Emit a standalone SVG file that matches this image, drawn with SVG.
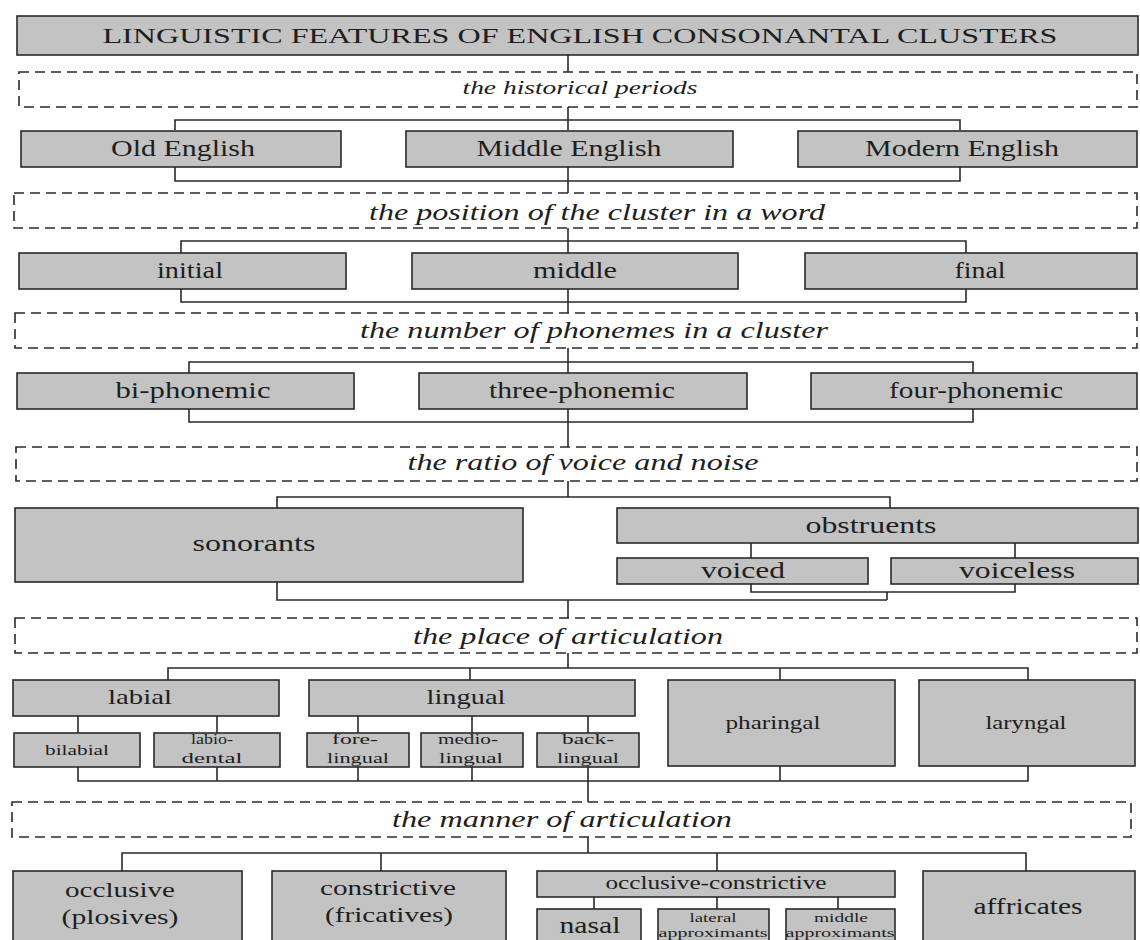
<svg xmlns="http://www.w3.org/2000/svg" width="1140" height="940" viewBox="0 0 1140 940">
<style>
.box{fill:#c3c3c3;stroke:#2a2a2a;stroke-width:1.6}
.dash{fill:none;stroke:#2a2a2a;stroke-width:1.6;stroke-dasharray:10 6}
.con{fill:none;stroke:#2a2a2a;stroke-width:1.6}
text{font-family:"Liberation Serif","Times New Roman",serif;fill:#1e1e1e;text-anchor:middle}
.it{font-style:italic;font-size:24px}
.t23{font-size:23px}
.t22{font-size:22px}
.t21{font-size:21px}
.t18{font-size:18px}
.t15{font-size:15px}
.t13{font-size:13px}
</style>
<rect width="1140" height="940" fill="#ffffff"/>
<g id="connectors">
<path class="con" d="M568,55V72"/>
<path class="con" d="M568,107V130M175,130V120H960V130M175,166V181H960V166M568,166V193"/>
<path class="con" d="M568,228V253M181,253V241H966V253M181,289V302H966V289M568,289V313"/>
<path class="con" d="M568,348V373M189,373V362H973V373M189,409V422H973V409M568,409V447"/>
<path class="con" d="M568,481V497M277,508V497H890V508"/>
<path class="con" d="M751,543V558M1015,543V558M751,584V592H1015V584M887,592V600M277,582V600H887M568,600V618"/>
<path class="con" d="M568,653V668M168,680V668H1028V680M470,668V680M780,668V680"/>
<path class="con" d="M78,716V733M217,716V733M358,716V733M472,716V733M588,716V733"/>
<path class="con" d="M78,767V781H1028V766M217,767V781M358,767V781M472,767V781M588,767V802M780,766V781"/>
<path class="con" d="M588,837V853M122,871V853H1026V871M381,853V871M717,853V871"/>
<path class="con" d="M594,897V909M717,897V909M838,897V909"/>
</g>
<g id="title"><rect class="box" x="17" y="16" width="1121" height="39"/><text x="580" y="43" font-size="22" textLength="955" lengthAdjust="spacingAndGlyphs">LINGUISTIC FEATURES OF ENGLISH CONSONANTAL CLUSTERS</text></g>
<g id="d1"><rect class="dash" x="19" y="72" width="1118" height="35"/><text class="it" x="580" y="94" style="font-size:18px" textLength="235" lengthAdjust="spacingAndGlyphs">the historical periods</text></g>
<g id="old"><rect class="box" x="21" y="131" width="320" height="36"/><text class="t23" x="183" y="156" textLength="144" lengthAdjust="spacingAndGlyphs">Old English</text></g>
<g id="middleEng"><rect class="box" x="406" y="131" width="327" height="36"/><text class="t23" x="569" y="156" textLength="185" lengthAdjust="spacingAndGlyphs">Middle English</text></g>
<g id="modern"><rect class="box" x="798" y="131" width="339" height="36"/><text class="t23" x="962" y="156" textLength="194" lengthAdjust="spacingAndGlyphs">Modern English</text></g>
<g id="d2"><rect class="dash" x="14" y="193" width="1123" height="35"/><text class="it" x="597" y="220" textLength="456" lengthAdjust="spacingAndGlyphs">the position of the cluster in a word</text></g>
<g id="initial"><rect class="box" x="19" y="253" width="327" height="36"/><text class="t23" x="190" y="278" textLength="66" lengthAdjust="spacingAndGlyphs">initial</text></g>
<g id="middle"><rect class="box" x="412" y="253" width="326" height="36"/><text class="t23" x="575" y="278" textLength="84" lengthAdjust="spacingAndGlyphs">middle</text></g>
<g id="final"><rect class="box" x="805" y="253" width="332" height="36"/><text class="t23" x="980" y="278" textLength="51" lengthAdjust="spacingAndGlyphs">final</text></g>
<g id="d3"><rect class="dash" x="15" y="313" width="1122" height="35"/><text class="it" x="594" y="338" textLength="468" lengthAdjust="spacingAndGlyphs">the number of phonemes in a cluster</text></g>
<g id="bi"><rect class="box" x="17" y="373" width="337" height="36"/><text class="t23" x="193" y="398" textLength="155" lengthAdjust="spacingAndGlyphs">bi-phonemic</text></g>
<g id="three"><rect class="box" x="419" y="373" width="328" height="36"/><text class="t23" x="582" y="398" textLength="186" lengthAdjust="spacingAndGlyphs">three-phonemic</text></g>
<g id="four"><rect class="box" x="811" y="373" width="326" height="36"/><text class="t23" x="976" y="398" textLength="174" lengthAdjust="spacingAndGlyphs">four-phonemic</text></g>
<g id="d4"><rect class="dash" x="16" y="447" width="1121" height="34"/><text class="it" x="583" y="470" textLength="351" lengthAdjust="spacingAndGlyphs">the ratio of voice and noise</text></g>
<g id="sonorants"><rect class="box" x="15" y="508" width="508" height="74"/><text class="t23" x="254" y="551" textLength="123" lengthAdjust="spacingAndGlyphs">sonorants</text></g>
<g id="obstruents"><rect class="box" x="617" y="508" width="521" height="35"/><text class="t23" x="871" y="533" textLength="131" lengthAdjust="spacingAndGlyphs">obstruents</text></g>
<g id="voiced"><rect class="box" x="617" y="558" width="251" height="26"/><text class="t23" x="743" y="578" textLength="84" lengthAdjust="spacingAndGlyphs">voiced</text></g>
<g id="voiceless"><rect class="box" x="891" y="558" width="247" height="26"/><text class="t23" x="1017" y="578" textLength="116" lengthAdjust="spacingAndGlyphs">voiceless</text></g>
<g id="d5"><rect class="dash" x="15" y="618" width="1122" height="35"/><text class="it" x="568" y="644" textLength="310" lengthAdjust="spacingAndGlyphs">the place of articulation</text></g>
<g id="labial"><rect class="box" x="13" y="680" width="266" height="36"/><text class="t21" x="140" y="704" textLength="64" lengthAdjust="spacingAndGlyphs">labial</text></g>
<g id="lingual"><rect class="box" x="309" y="680" width="326" height="36"/><text class="t21" x="466" y="704" textLength="79" lengthAdjust="spacingAndGlyphs">lingual</text></g>
<g id="pharingal"><rect class="box" x="668" y="680" width="227" height="86"/><text class="t18" x="773" y="729" textLength="95" lengthAdjust="spacingAndGlyphs">pharingal</text></g>
<g id="laryngal"><rect class="box" x="919" y="680" width="216" height="86"/><text class="t18" x="1026" y="729" textLength="81" lengthAdjust="spacingAndGlyphs">laryngal</text></g>
<g id="bilabial"><rect class="box" x="14" y="733" width="126" height="34"/><text class="t15" x="77" y="755" textLength="64" lengthAdjust="spacingAndGlyphs">bilabial</text></g>
<g id="labiodental"><rect class="box" x="154" y="733" width="126" height="34"/><text class="t15" x="212" y="744" textLength="42" lengthAdjust="spacingAndGlyphs">labio-</text><text class="t15" x="212" y="763" textLength="61" lengthAdjust="spacingAndGlyphs">dental</text></g>
<g id="forelingual"><rect class="box" x="307" y="733" width="102" height="34"/><text class="t15" x="355" y="744" textLength="46" lengthAdjust="spacingAndGlyphs">fore-</text><text class="t15" x="358" y="763" textLength="62" lengthAdjust="spacingAndGlyphs">lingual</text></g>
<g id="mediolingual"><rect class="box" x="421" y="733" width="102" height="34"/><text class="t15" x="468" y="744" textLength="60" lengthAdjust="spacingAndGlyphs">medio-</text><text class="t15" x="471" y="763" textLength="64" lengthAdjust="spacingAndGlyphs">lingual</text></g>
<g id="backlingual"><rect class="box" x="537" y="733" width="102" height="34"/><text class="t15" x="588" y="744" textLength="52" lengthAdjust="spacingAndGlyphs">back-</text><text class="t15" x="588" y="763" textLength="62" lengthAdjust="spacingAndGlyphs">lingual</text></g>
<g id="d6"><rect class="dash" x="12" y="802" width="1119" height="35"/><text class="it" x="562" y="827" textLength="340" lengthAdjust="spacingAndGlyphs">the manner of articulation</text></g>
<g id="occlusive"><rect class="box" x="13" y="871" width="229" height="80"/><text class="t22" x="120" y="897" textLength="110" lengthAdjust="spacingAndGlyphs">occlusive</text><text class="t22" x="120" y="924" textLength="117" lengthAdjust="spacingAndGlyphs">(plosives)</text></g>
<g id="constrictive"><rect class="box" x="272" y="871" width="234" height="80"/><text class="t22" x="388" y="895" textLength="136" lengthAdjust="spacingAndGlyphs">constrictive</text><text class="t22" x="389" y="922" textLength="128" lengthAdjust="spacingAndGlyphs">(fricatives)</text></g>
<g id="occcon"><rect class="box" x="537" y="871" width="358" height="26"/><text class="t18" x="716" y="889" textLength="221" lengthAdjust="spacingAndGlyphs">occlusive-constrictive</text></g>
<g id="nasal"><rect class="box" x="537" y="909" width="104" height="40"/><text x="590" y="933" font-size="24" textLength="61" lengthAdjust="spacingAndGlyphs">nasal</text></g>
<g id="lateral"><rect class="box" x="658" y="909" width="111" height="40"/><text class="t13" x="713" y="922" textLength="47" lengthAdjust="spacingAndGlyphs">lateral</text><text class="t13" x="713" y="937" textLength="109" lengthAdjust="spacingAndGlyphs">approximants</text></g>
<g id="middleapprox"><rect class="box" x="786" y="909" width="109" height="40"/><text class="t13" x="841" y="922" textLength="54" lengthAdjust="spacingAndGlyphs">middle</text><text class="t13" x="840" y="937" textLength="109" lengthAdjust="spacingAndGlyphs">approximants</text></g>
<g id="affricates"><rect class="box" x="923" y="871" width="212" height="80"/><text x="1028" y="914" font-size="24" textLength="109" lengthAdjust="spacingAndGlyphs">affricates</text></g>
</svg>
